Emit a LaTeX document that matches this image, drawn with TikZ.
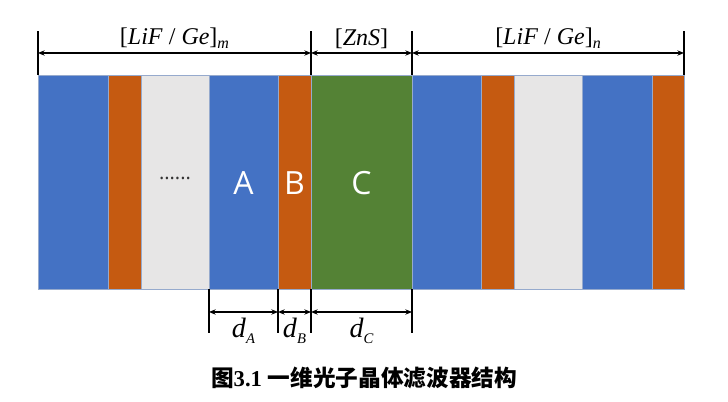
\documentclass[tikz,border=0pt]{standalone}
\usepackage{fontspec}
\setmainfont{Liberation Serif}
\newfontfamily\cjk{Noto Sans CJK SC}
\newfontfamily\lettersf{Open Sans}
\usetikzlibrary{arrows.meta}
\definecolor{lblue}{RGB}{68,114,196}
\definecolor{lorange}{RGB}{197,90,17}
\definecolor{lgray}{RGB}{231,230,230}
\definecolor{lgreen}{RGB}{84,130,53}
\definecolor{edge}{RGB}{150,170,205}

\begin{document}
\begin{tikzpicture}[x=0.75pt, y=-0.75pt,
    tick/.style={draw=black, line width=1.3pt},
    dim/.style={draw=black, line width=0.8pt, {Stealth[length=5pt,width=4pt]}-{Stealth[length=5pt,width=4pt]}},
    toplab/.style={font=\fontsize{18}{20}\selectfont, above=2pt, inner sep=1pt},
    botlab/.style={font=\fontsize{21}{22}\selectfont, below=3pt, inner sep=1pt},
    let/.style={font=\lettersf\fontsize{24}{26}\selectfont, text=white},
    capt/.style={font=\bfseries\fontsize{17}{19}\selectfont}]
  \useasboundingbox (0,0) rectangle (728,402);
  \def\ytop{75} \def\ybot{289}

  % ---------- layers ------------------------------------------------------
  \foreach \n/\a/\b/\c in {1/38/108/lblue, 2/108/141/lorange, 3/141/209/lgray,
      4/209/278/lblue, 5/278/311/lorange, 6/311/412/lgreen, 7/412/481/lblue,
      8/481/514/lorange, 9/514/582/lgray, 10/582/652/lblue, 11/652/684/lorange} {
    \filldraw[fill=\c, draw=edge, line width=0.4pt] (\a,\ytop) rectangle (\b,\ybot);
    \coordinate (t\n) at (\a,\ytop);
    \coordinate (b\n) at (\a,\ybot);
  }
  \coordinate (t12) at (684,\ytop);
  \node[font=\lettersf\fontsize{15}{15}\selectfont, text=black!80] (dots) at (175,178) {......};
  \node[let] (A) at (243.5,183) {A};
  \node[let] (B) at (294.5,183) {B};
  \node[let] (C) at (361.5,183) {C};

  % ---------- periods on top ----------------------------------------------
  \foreach \n in {1,6,7,12} {
    \draw[tick] (t\n) -- ++(0,-44) coordinate (tt\n);
    \coordinate (u\n) at ([yshift=-0.75pt*22]tt\n);
  }
  \draw[dim] (u1) -- node[toplab] {[\textit{LiF} / \textit{Ge}]\raisebox{-3pt}{\fontsize{12}{12}\selectfont\textit{m}}} (u6);
  \draw[dim] (u6) -- node[toplab] {[\textit{ZnS}]} (u7);
  \draw[dim] (u7) -- node[toplab] {[\textit{LiF} / \textit{Ge}]\raisebox{-3pt}{\fontsize{12}{12}\selectfont\textit{n}}} (u12);

  % ---------- thicknesses below -------------------------------------------
  \foreach \n in {4,5,6,7} {
    \draw[tick] (b\n) -- ++(0,44) coordinate (bb\n);
    \coordinate (v\n) at ([yshift=0.75pt*21]bb\n);
  }
  \draw[dim] (v4) -- node[botlab] {\textit{d}\raisebox{-5pt}{\fontsize{11}{11}\selectfont\textit{A}}} (v5);
  \draw[dim] (v5) -- node[botlab] {\textit{d}\raisebox{-5pt}{\fontsize{11}{11}\selectfont\textit{B}}} (v6);
  \draw[dim] (v6) -- node[botlab] {\textit{d}\raisebox{-5pt}{\fontsize{11}{11}\selectfont\textit{C}}} (v7);

  % ---------- caption -----------------------------------------------------
  \node[capt] (cap) at (364,378) {{\cjk 图}3.1 {\cjk 一维光子晶体滤波器结构}};
\end{tikzpicture}
\end{document}
